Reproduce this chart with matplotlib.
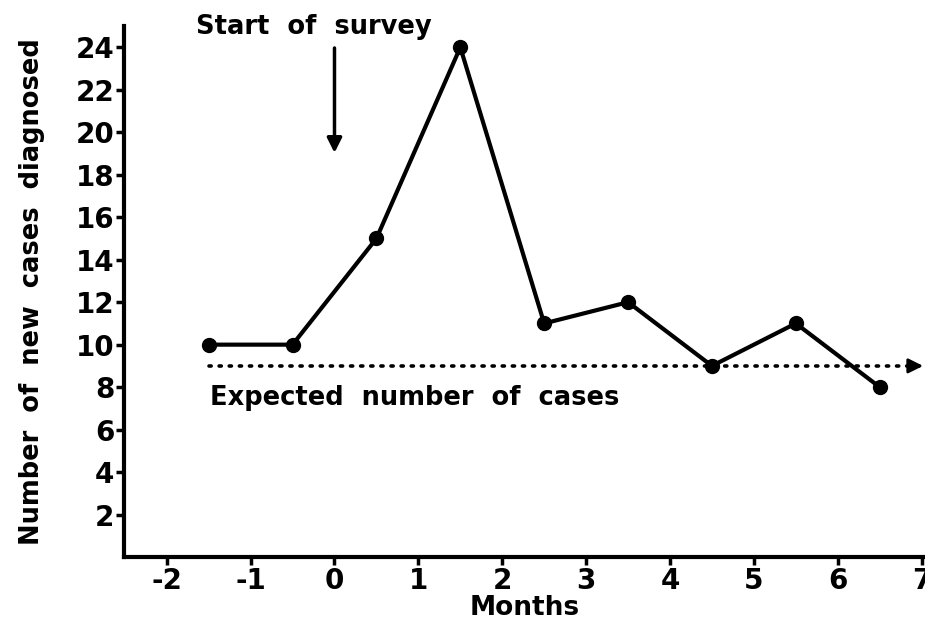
# Recreation of the "new cases diagnosed" survey chart
import matplotlib.pyplot as plt

# data
months = [-1.5, -0.5, 0.5, 1.5, 2.5, 3.5, 4.5, 5.5, 6.5]
new_cases = [10, 10, 15, 24, 11, 12, 9, 11, 8]
expected_cases = 9
x_ticks = [-2, -1, 0, 1, 2, 3, 4, 5, 6, 7]
y_ticks = [2, 4, 6, 8, 10, 12, 14, 16, 18, 20, 22, 24]

plt.rcParams['font.family'] = ['DejaVu Sans']
plt.rcParams['font.weight'] = 'bold'
plt.rcParams['axes.labelweight'] = 'bold'
plt.rcParams['axes.unicode_minus'] = False

fig = plt.figure(figsize=(9.25, 6.21), dpi=100)
ax = fig.add_axes([0.134, 0.103, 0.866, 0.855])

ax.plot(months, new_cases, color='black', linewidth=3, marker='o',
        markersize=10, solid_joinstyle='round')

# expected level, dotted with an arrow head at the right edge
ax.plot([months[0], 7.0], [expected_cases, expected_cases], color='black',
        linestyle=(0, (0.6, 2.2)), linewidth=2.6, dash_capstyle='round')
ax.annotate('', xy=(7.05, expected_cases), xytext=(6.85, expected_cases),
            arrowprops=dict(arrowstyle='-|>', color='black', lw=2,
                            mutation_scale=22), annotation_clip=False)
ax.text(-1.49, 7.5, 'Expected  number  of  cases', fontsize=18.5,
        va='center', ha='left')

# start of survey arrow
ax.annotate('', xy=(0, 18.9), xytext=(0, 24.1),
            arrowprops=dict(arrowstyle='-|>', color='black', lw=2.5,
                            mutation_scale=22))
ax.text(-0.25, 24.95, 'Start  of  survey', fontsize=18.5, ha='center',
        va='center', clip_on=False)

ax.set_xlim(-2.51, 7.04)
ax.set_ylim(0, 25)
ax.set_xticks(x_ticks)
ax.set_yticks(y_ticks)
ax.tick_params(labelsize=20, width=2.5, length=6, direction='out', pad=1)

for side in ['top', 'right']:
    ax.spines[side].set_visible(False)
for side in ['left', 'bottom']:
    ax.spines[side].set_linewidth(3)

ax.set_xlabel('Months', fontsize=19, labelpad=0)
ax.set_ylabel('Number  of  new  cases  diagnosed', fontsize=18.5,
              labelpad=22)

plt.savefig('out.png', dpi=100)
